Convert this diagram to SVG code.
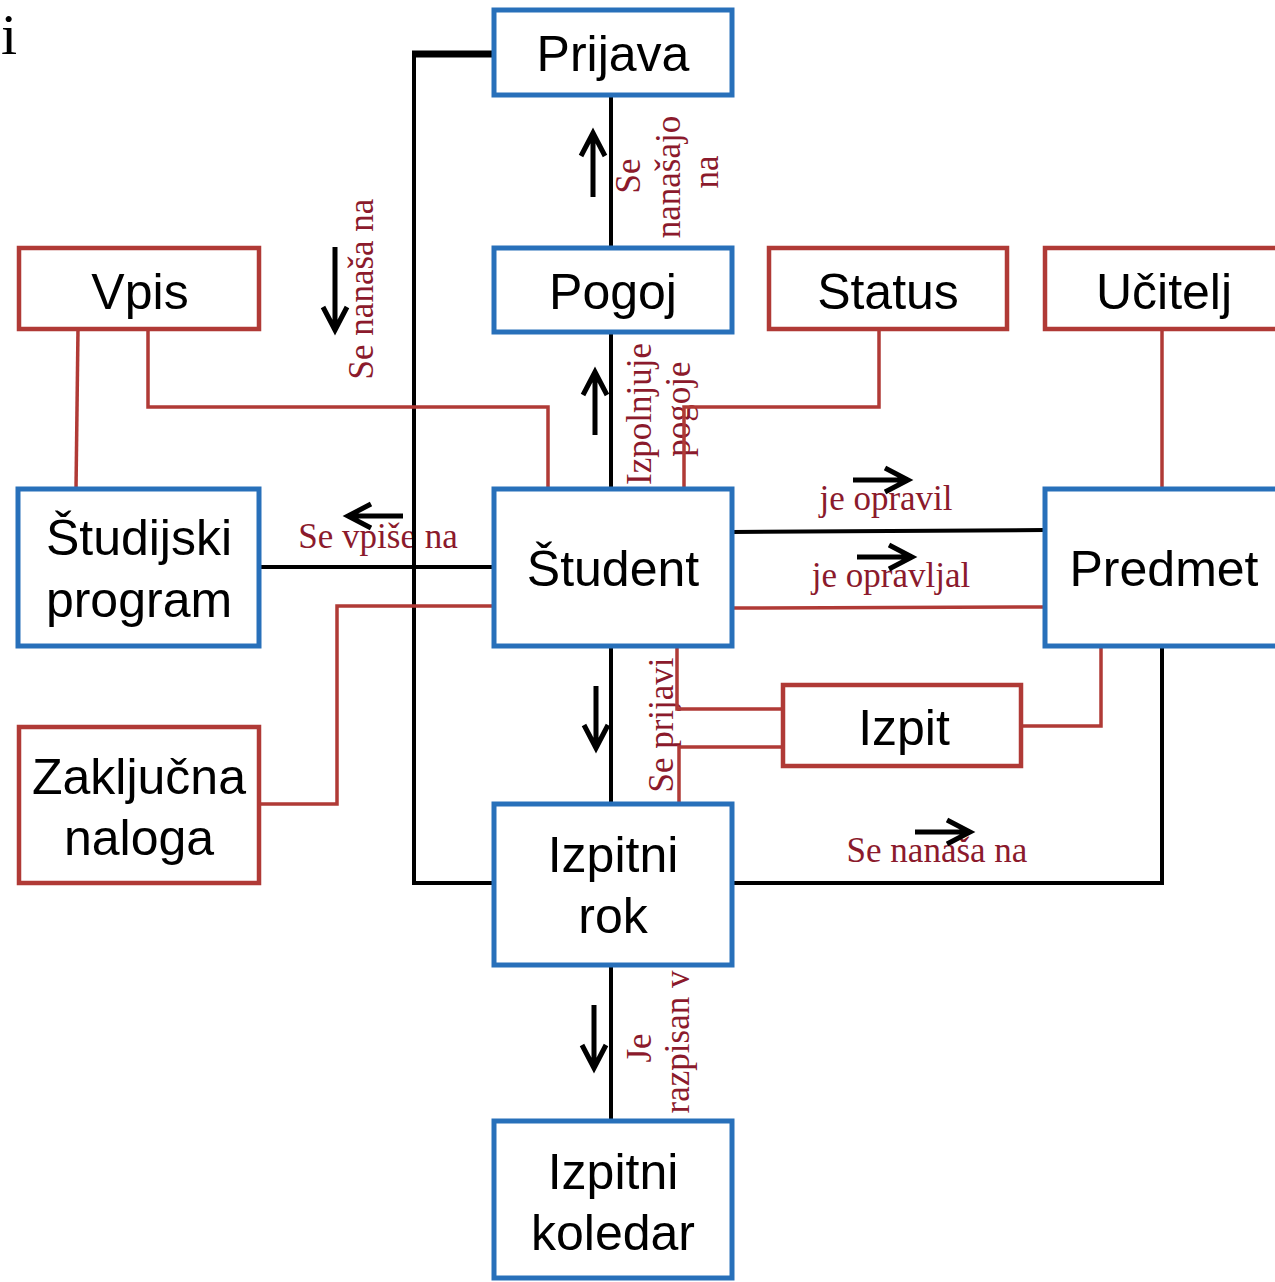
<svg xmlns="http://www.w3.org/2000/svg" width="1275" height="1282" viewBox="0 0 1275 1282">
  <style>
    .blue { fill: #fff; stroke: #2870BA; stroke-width: 5; }
    .red { fill: #fff; stroke: #B03A36; stroke-width: 4.5; }
    .name { font-family: "Liberation Sans", Arial, sans-serif; font-size: 50px; fill: #000; text-anchor: middle; }
    .rel { font-family: "Liberation Serif", "Times New Roman", serif; font-size: 35px; fill: #8B1A2C; text-anchor: middle; }
    .blk { fill: none; stroke: #000; stroke-width: 4; }
    .rln { fill: none; stroke: #B03A36; stroke-width: 3.5; }
    .arr { fill: none; stroke: #000; stroke-width: 5; stroke-linejoin: miter; }
  </style>

  <rect width="1275" height="1282" fill="#fff"/>

  <!-- stray letter at top left -->
  <text x="1" y="54" font-family="Liberation Serif, serif" font-size="58" fill="#000">i</text>

  <!-- relationship labels -->
  <g id="labels">
    <text class="rel" transform="translate(373,289) rotate(-90)">Se nanaša na</text>
    <text class="rel" transform="translate(640,176) rotate(-90)">Se</text>
    <text class="rel" transform="translate(680,177) rotate(-90)">nanašajo</text>
    <text class="rel" transform="translate(718,172) rotate(-90)">na</text>
    <text class="rel" transform="translate(651,414) rotate(-90)">Izpolnjuje</text>
    <text class="rel" transform="translate(690,409) rotate(-90)">pogoje</text>
    <text class="rel" x="886" y="510">je opravil</text>
    <text class="rel" x="891" y="587">je opravljal</text>
    <text class="rel" x="378" y="548">Se vpiše na</text>
    <text class="rel" transform="translate(673,725) rotate(-90)">Se prijavi</text>
    <text class="rel" x="937" y="862">Se nanaša na</text>
    <text class="rel" transform="translate(651,1048) rotate(-90)">Je</text>
    <text class="rel" transform="translate(689,1042) rotate(-90)">razpisan v</text>
  </g>

  <!-- connectors -->
  <g id="connectors">
    <!-- black relationships -->
    <polyline class="blk" points="414,54 414,883 494,883"/>
    <line x1="412" y1="54" x2="494" y2="54" stroke="#000" stroke-width="7"/>
    <line class="blk" x1="611" y1="95" x2="611" y2="248"/>
    <line class="blk" x1="611" y1="332" x2="611" y2="489"/>
    <line class="blk" x1="611" y1="646" x2="611" y2="804"/>
    <line class="blk" x1="611" y1="965" x2="611" y2="1121"/>
    <line class="blk" x1="259" y1="567" x2="494" y2="567"/>
    <line class="blk" x1="732" y1="532" x2="1045" y2="530"/>
    <polyline class="blk" points="732,883 1162,883 1162,646"/>

    <!-- red relationships -->
    <line class="rln" x1="78" y1="329" x2="76" y2="489"/>
    <polyline class="rln" points="148,329 148,407 548,407 548,489"/>
    <polyline class="rln" points="879,329 879,407 684,407 684,489"/>
    <line class="rln" x1="1162" y1="329" x2="1162" y2="489"/>
    <line class="rln" x1="732" y1="608" x2="1045" y2="607"/>
    <polyline class="rln" points="494,606 337,606 337,804 259,804"/>
    <polyline class="rln" points="677,646 677,709 783,709"/>
    <polyline class="rln" points="679,804 679,747 783,747"/>
    <polyline class="rln" points="1021,726 1101,726 1101,646"/>

    <!-- direction arrows -->
    <path class="arr" d="M593,197 V133 M581,156 L593,133 L605,156"/>
    <path class="arr" d="M335,247 V330 M323,307 L335,330 L347,307"/>
    <path class="arr" d="M595,435 V372 M583,395 L595,372 L607,395"/>
    <path class="arr" d="M853,480 H908 M885,468 L908,480 L885,492"/>
    <path class="arr" d="M403,516 H348 M371,504 L348,516 L371,528"/>
    <path class="arr" d="M857,557 H912 M889,545 L912,557 L889,569"/>
    <path class="arr" d="M596,686 V748 M584,725 L596,748 L608,725"/>
    <path class="arr" d="M915,832 H970 M947,820 L970,832 L947,844"/>
    <path class="arr" d="M594,1005 V1068 M582,1045 L594,1068 L606,1045"/>
  </g>

  <!-- entities -->
  <g id="prijava">
    <rect class="blue" x="494" y="10" width="238" height="85"/>
    <text class="name" x="613" y="71">Prijava</text>
  </g>
  <g id="pogoj">
    <rect class="blue" x="494" y="248" width="238" height="84"/>
    <text class="name" x="613" y="309">Pogoj</text>
  </g>
  <g id="vpis">
    <rect class="red" x="19" y="248" width="240" height="81"/>
    <text class="name" x="140" y="309">Vpis</text>
  </g>
  <g id="status">
    <rect class="red" x="769" y="248" width="238" height="81"/>
    <text class="name" x="888" y="309">Status</text>
  </g>
  <g id="ucitelj">
    <rect class="red" x="1045" y="248" width="260" height="81"/>
    <text class="name" x="1164" y="309">Učitelj</text>
  </g>
  <g id="studijski-program">
    <rect class="blue" x="18" y="489" width="241" height="157"/>
    <text class="name" x="139" y="555">Študijski</text>
    <text class="name" x="139" y="617">program</text>
  </g>
  <g id="student">
    <rect class="blue" x="494" y="489" width="238" height="157"/>
    <text class="name" x="613" y="586">Študent</text>
  </g>
  <g id="predmet">
    <rect class="blue" x="1045" y="489" width="260" height="157"/>
    <text class="name" x="1164" y="586">Predmet</text>
  </g>
  <g id="izpit">
    <rect class="red" x="783" y="685" width="238" height="81"/>
    <text class="name" x="904" y="745">Izpit</text>
  </g>
  <g id="zakljucna-naloga">
    <rect class="red" x="19" y="727" width="240" height="156"/>
    <text class="name" x="139" y="794">Zaključna</text>
    <text class="name" x="139" y="855">naloga</text>
  </g>
  <g id="izpitni-rok">
    <rect class="blue" x="494" y="804" width="238" height="161"/>
    <text class="name" x="613" y="872">Izpitni</text>
    <text class="name" x="613" y="933">rok</text>
  </g>
  <g id="izpitni-koledar">
    <rect class="blue" x="494" y="1121" width="238" height="157"/>
    <text class="name" x="613" y="1189">Izpitni</text>
    <text class="name" x="613" y="1250">koledar</text>
  </g>
</svg>
